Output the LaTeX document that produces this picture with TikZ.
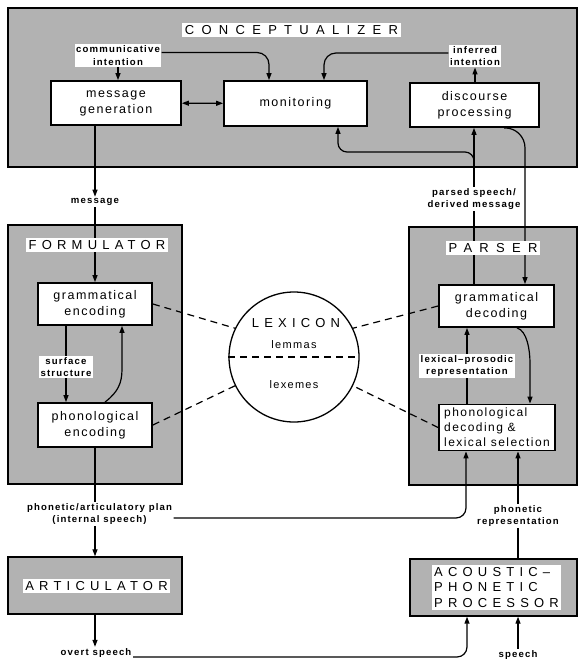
\documentclass[tikz,border=0pt]{standalone}
\usepackage{fontspec}
\setmainfont{Liberation Sans}
\newfontfamily\boxfont[LetterSpace=12]{Liberation Sans}
\newfontfamily\labelfont[LetterSpace=12]{Liberation Sans}
\newfontfamily\titlefont[LetterSpace=40]{Liberation Sans}
\newfontfamily\widetitlefont[LetterSpace=56]{Liberation Sans}
\usetikzlibrary{arrows.meta}

\begin{document}
\begin{tikzpicture}[
  x=1pt, y=-1pt,
  >={Triangle[length=7pt,width=5pt]},
  region/.style={draw, line width=1.4pt, fill=black!30, inner sep=0pt},
  proc/.style={draw, line width=1.8pt, fill=white, align=center, inner sep=0pt,
               font=\boxfont\fontsize{12.5}{16}\selectfont},
  heading/.style={fill=white, inner sep=2.5pt, font=\titlefont\fontsize{13}{15.5}\selectfont},
  lbl/.style={fill=white, inner sep=1.5pt, align=center,
              font=\labelfont\bfseries\fontsize{9.6}{12.5}\selectfont},
  conn/.style={line width=1.2pt},
  lexline/.style={line width=1.2pt, dash pattern=on 7pt off 5pt},
]
\useasboundingbox (0,0) rectangle (579,661);

% conceptualizer
\node[region, minimum width=569pt, minimum height=159pt] (concept) at (292.5,87.5) {};
\node[proc, minimum width=130pt, minimum height=44pt] (msggen) at (116,103) {message\\generation};
\node[proc, minimum width=143pt, minimum height=45pt] (monitor) at (295.5,103.5) {monitoring};
\node[proc, minimum width=129pt, minimum height=44pt] (discourse) at (474.5,105) {discourse\\processing};
\node[lbl] (commint) at (118,55.5) {communicative\\intention};
\node[lbl] (infint) at (475,56) {inferred\\intention};

% formulator
\node[region, minimum width=174pt, minimum height=259pt] (formul) at (95,354.5) {};
\node[proc, minimum width=114pt, minimum height=42pt] (gramenc) at (95,304) {grammatical\\encoding};
\node[proc, minimum width=114pt, minimum height=44pt] (phonenc) at (95,425) {phonological\\encoding};
\node[lbl] (surface) at (66,367) {surface\\structure};
\node[lbl] (message) at (95,202) {message};

% lexicon
\node[draw, circle, line width=1.3pt, fill=white, minimum size=130pt, inner sep=0pt] (lexicon) at (294,357) {};
\node[font=\titlefont\fontsize{13}{15}\selectfont] (lextitle) at (296,323) {LEXICON};
\node[font=\boxfont\fontsize{11}{13}\selectfont] (lemmas) at (294,345) {lemmas};
\node[font=\boxfont\fontsize{11}{13}\selectfont] (lexemes) at (294,385) {lexemes};
\draw[lexline] (lexicon.west) -- (lexicon.east);

% parser
\node[region, minimum width=168pt, minimum height=258pt] (parser) at (493,356) {};
\node[proc, minimum width=115pt, minimum height=42pt] (gramdec) at (496.5,306) {grammatical\\decoding};
\node[proc, minimum width=116pt, minimum height=46pt, align=left,
      font=\boxfont\fontsize{12}{15}\selectfont] (phondec) at (497,427.5)
      {phonological\\decoding \&\\lexical selection};
\node[lbl] (lexpro) at (467,366) {lexical–prosodic\\representation};
\node[lbl] (parsed) at (474,199) {parsed speech/\\derived message};

% articulator and acoustic-phonetic processor
\node[lbl] (plan) at (99.5,514) {phonetic/articulatory plan\\(internal speech)};
\node[region, minimum width=174pt, minimum height=57pt] (artic) at (95,585.5) {};
\node[lbl] (overt) at (96,653) {overt speech};
\node[region, minimum width=167pt, minimum height=57pt] (acoustic) at (493.5,587.5) {};
\node[lbl] (phonrep) at (518,516) {phonetic\\representation};
\node[lbl] (speech) at (518,655) {speech};

% connectors
\draw[conn,->] (commint) -- (commint |- msggen.north);
\draw[conn,->,rounded corners=12pt] ([yshift=3pt]commint.east) -| ([xshift=-26.5pt]monitor.north);
\draw[conn,->,rounded corners=12pt] ([yshift=3pt]infint.west) -| ([xshift=28.5pt]monitor.north);
\draw[conn,<->] (msggen) -- (monitor);
\draw[conn,->] (infint.south |- discourse.north) -- (infint.south);
\draw[conn] (parsed) -- (parsed |- gramdec.north);
\draw[conn,->] (parsed) -- (parsed |- discourse.south);
\draw[conn,->,rounded corners=9pt] (parsed |- concept.south) |- (338,152) -- ([xshift=42.5pt]monitor.south);
\draw[conn,->,rounded corners=20pt] ([xshift=29.5pt]discourse.south) -| ([xshift=28.5pt]gramdec.north);

\draw[conn,->] (message |- msggen.south) -- (message);
\draw[conn,->] (message) -- (message |- gramenc.north);
\draw[conn] (surface |- gramenc.south) -- (surface);
\draw[conn,->] (surface) -- (surface |- phonenc.north);
\draw[conn,->] ([xshift=10pt]phonenc.north) .. controls +(13,-10) and +(0,14) .. ([xshift=27pt,yshift=33pt]phonenc.north) -- ([xshift=27pt]gramenc.south);

\draw[lexline] (gramenc.east) -- (lexicon.154);
\draw[lexline] (phonenc.east) -- (lexicon.206);
\draw[lexline] (gramdec.west) -- (lexicon.26);
\draw[lexline] (phondec.west) -- (lexicon.334);

\draw[conn] (lexpro |- phondec.north) -- (lexpro);
\draw[conn,->] (lexpro) -- (lexpro |- gramdec.south);
\draw[conn,->] ([xshift=20.5pt]gramdec.south) .. controls +(10,3) and +(0,-14) .. ([xshift=33pt,yshift=40pt]phondec.north) -- ([xshift=33pt]phondec.north);

\draw[conn] (phonenc.south) -- (phonenc.south |- plan.north);
\draw[conn,->] (phonenc.south |- plan.south) -- (artic.north);
\draw[conn,->] (artic.south) -- (artic.south |- overt.north);
\draw[conn,->,rounded corners=10pt] ([yshift=-4pt]plan.east) -| ([xshift=-31pt]phondec.south);
\draw[conn,->,rounded corners=10pt] ([yshift=-4pt]overt.east) -| ([xshift=-26.5pt]acoustic.south);
\draw[conn] (phonrep |- acoustic.north) -- (phonrep);
\draw[conn,->] (phonrep) -- (phonrep |- phondec.south);
\draw[conn,->] (speech) -- (speech |- acoustic.south);

% titles on top of the lines
\node[heading, font=\widetitlefont\fontsize{13}{15.5}\selectfont] (concepttitle) at (291.5,30) {CONCEPTUALIZER};
\node[heading] (formtitle) at (97,245) {FORMULATOR};
\node[heading, font=\widetitlefont\fontsize{13}{15.5}\selectfont] (partitle) at (493,248) {PARSER};
\node[heading] (artictitle) at (96.5,586) {ARTICULATOR};
\node[heading, align=left] (acoustictitle) at (496.5,587.5) {ACOUSTIC–\\PHONETIC\\PROCESSOR};
\end{tikzpicture}
\end{document}
